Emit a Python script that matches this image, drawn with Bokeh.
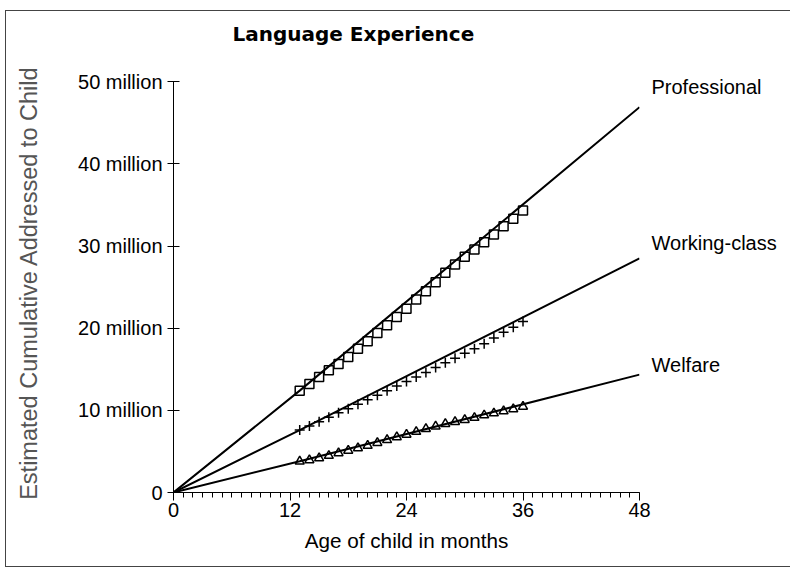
from bokeh.plotting import figure
from bokeh.models import FixedTicker, LinearAxis
from bokeh.embed import file_html
from bokeh.resources import INLINE

# ---- data (millions of words, age in months) ----
months = list(range(13, 37))
professional = [12.39, 13.21, 14.06, 14.87, 15.65, 16.5, 17.51, 18.4, 19.42, 20.35,
                21.37, 22.37, 23.48, 24.49, 25.59, 26.74, 27.75, 28.68, 29.58, 30.47,
                31.4, 32.42, 33.32, 34.33]
working_class = [7.6, 8.1, 8.6, 9.15, 9.7, 10.2, 10.75, 11.3, 11.85, 12.4,
                 12.95, 13.5, 14.05, 14.6, 15.2, 15.8, 16.35, 16.95, 17.5, 18.1,
                 18.8, 19.5, 20.1, 20.8]
welfare = [3.78, 3.95, 4.19, 4.47, 4.8, 5.1, 5.4, 5.7, 6.05, 6.4,
           6.75, 7.05, 7.4, 7.75, 8.05, 8.35, 8.6, 8.85, 9.1, 9.4,
           9.65, 9.9, 10.15, 10.45]

fit_months = [0, 13, 48]
fit_professional = [0, 12.4, 46.9]
fit_working_class = [0, 7.6, 28.5]
fit_welfare = [0, 3.8, 14.35]

x_ticks = [0, 12, 24, 36, 48]
x_minor_ticks = list(range(0, 49))
y_ticks = [0, 10, 20, 30, 40, 50]
y_tick_labels = ["0", "10 million", "20 million", "30 million", "40 million", "50 million"]

series_names = ["Professional", "Working-class", "Welfare"]
series_label_y = [49.32, 30.4, 15.56]

FONT = "Liberation Sans"

p = figure(width=790, height=579, x_range=(0, 48), y_range=(0, 51),
           output_backend="svg", toolbar_location=None,
           min_border_left=173, min_border_right=151,
           min_border_top=85, min_border_bottom=75,
           title="Language Experience")
line = "linear-gradient(#444444,#444444)"
p.styles = {
    "margin-top": "-12px",
    "background": (f"{line} 5px 22px / 786px 1px no-repeat, "
                   f"{line} 5px 578px / 786px 1px no-repeat, "
                   f"{line} 5px 22px / 1px 557px no-repeat"),
}

p.title.text_font = "DejaVu Sans"
p.title.text_font_size = "20px"
p.title.text_font_style = "bold"
p.title.text_color = "black"
p.title.align = "left"
p.title.offset = 59
p.title.standoff = 55

p.grid.visible = False
p.outline_line_color = None
p.background_fill_color = "white"
p.border_fill_color = None

# x axis
xa = p.xaxis[0]
xa.ticker = FixedTicker(ticks=x_ticks, minor_ticks=x_minor_ticks)
xa.axis_label = "Age of child in months"
xa.axis_label_text_font = FONT
xa.axis_label_text_font_size = "20.7px"
xa.axis_label_text_font_style = "normal"
xa.axis_label_text_color = "black"
xa.axis_label_standoff = 9
xa.major_label_text_font = FONT
xa.major_label_text_font_size = "20px"
xa.major_label_text_color = "black"
xa.major_label_standoff = 2
xa.major_tick_in = 0
xa.major_tick_out = 8
xa.minor_tick_in = 0
xa.minor_tick_out = 5
xa.axis_line_color = "black"
xa.major_tick_line_color = "black"
xa.minor_tick_line_color = "black"

# y axis
ya = p.yaxis[0]
ya.bounds = (0, 50)
ya.ticker = FixedTicker(ticks=y_ticks, minor_ticks=[])
ya.major_label_overrides = {t: l for t, l in zip(y_ticks, y_tick_labels)}
ya.axis_label = "Estimated Cumulative Addressed to Child"
ya.axis_label_text_font = FONT
ya.axis_label_text_font_size = "23.5px"
ya.axis_label_text_font_style = "normal"
ya.axis_label_text_color = "#555555"
ya.axis_label_standoff = 33
ya.major_label_text_font = FONT
ya.major_label_text_font_size = "20px"
ya.major_label_text_color = "black"
ya.major_label_standoff = 5
ya.major_tick_in = 6
ya.major_tick_out = 6
ya.minor_tick_line_color = None
ya.axis_line_color = "black"
ya.major_tick_line_color = "black"

# series names as labels of a right-hand axis at the lines' ends
ra = LinearAxis(ticker=FixedTicker(ticks=series_label_y, minor_ticks=[]))
ra.major_label_overrides = {t: n for t, n in zip(series_label_y, series_names)}
ra.major_label_text_font = FONT
ra.major_label_text_font_size = "20px"
ra.major_label_text_color = "black"
ra.major_label_standoff = 12
ra.major_tick_in = 0
ra.major_tick_out = 0
ra.axis_line_color = None
ra.major_tick_line_color = None
ra.minor_tick_line_color = None
p.add_layout(ra, "right")

# markers
p.scatter(months, professional, marker="square", size=9, line_color="black",
          line_width=1.5, fill_color="white")
p.scatter(months, working_class, marker="cross", size=10, line_color="black",
          line_width=1.5)
p.scatter(months, welfare, marker="triangle", size=9, line_color="black",
          line_width=1.5, fill_color="white")

# fitted lines
for ys in (fit_professional, fit_working_class, fit_welfare):
    p.line(fit_months, ys, line_color="black", line_width=2)

open("out.html", "w").write(file_html(p, INLINE))
